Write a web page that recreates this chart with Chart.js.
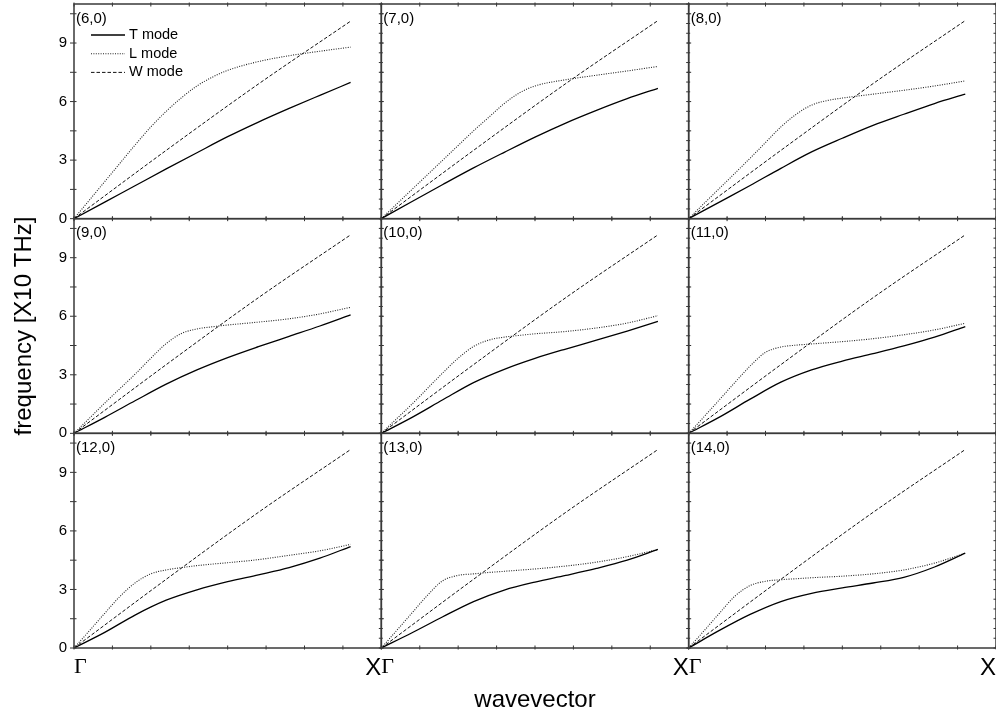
<!DOCTYPE html>
<html>
<head>
<meta charset="utf-8">
<script src="https://cdn.jsdelivr.net/npm/chart.js@4.4.1/dist/chart.umd.min.js"></script>
<style>
  html, body { margin: 0; padding: 0; background: #fff; }
  #wrap { width: 996px; height: 717px; }
</style>
</head>
<body>
<div id="wrap"><canvas id="bands" width="996" height="717"></canvas></div>
<script>
// Phonon-like dispersion of (n,0) tubes, 3x3 panels, Gamma -> X

const panelLabels = ['(6,0)', '(7,0)', '(8,0)', '(9,0)', '(10,0)', '(11,0)', '(12,0)', '(13,0)', '(14,0)'];

// wavevector samples (axis runs 0..1, curves stop at 0.9)
const kT = [0, 0.1, 0.2, 0.3, 0.4, 0.5, 0.6, 0.7, 0.8, 0.9];
const kL = [0, 0.05, 0.1, 0.15, 0.2, 0.25, 0.3, 0.35, 0.4, 0.45, 0.5, 0.6, 0.7, 0.8, 0.9];
const kW = [0, 0.3, 0.6, 0.9];

// T mode, one row per panel
const tMode = [
  [0, 0.85, 1.70, 2.55, 3.38, 4.20, 4.95, 5.65, 6.32, 6.98],
  [0, 0.88, 1.75, 2.60, 3.40, 4.18, 4.90, 5.55, 6.15, 6.68],
  [0, 0.85, 1.70, 2.58, 3.42, 4.12, 4.78, 5.35, 5.90, 6.38],
  [0, 0.82, 1.68, 2.52, 3.25, 3.88, 4.44, 4.97, 5.50, 6.07],
  [0, 0.82, 1.72, 2.60, 3.28, 3.84, 4.32, 4.77, 5.24, 5.74],
  [0, 0.83, 1.75, 2.62, 3.25, 3.70, 4.08, 4.48, 4.93, 5.47],
  [0, 0.80, 1.70, 2.45, 2.98, 3.40, 3.75, 4.12, 4.60, 5.20],
  [0, 0.78, 1.60, 2.38, 2.97, 3.38, 3.72, 4.08, 4.50, 5.05],
  [0, 0.90, 1.72, 2.38, 2.80, 3.08, 3.33, 3.62, 4.15, 4.86]
];

// L mode
const lMode = [
  [0, 0.95, 1.90, 2.85, 3.80, 4.70, 5.50, 6.20, 6.80, 7.25, 7.60, 8.05, 8.35, 8.58, 8.79],
  [0, 0.75, 1.50, 2.25, 3.00, 3.75, 4.50, 5.20, 5.90, 6.45, 6.80, 7.12, 7.35, 7.57, 7.80],
  [0, 0.78, 1.55, 2.32, 3.10, 3.90, 4.70, 5.35, 5.82, 6.05, 6.18, 6.38, 6.58, 6.80, 7.06],
  [0, 0.77, 1.55, 2.30, 3.05, 3.85, 4.60, 5.12, 5.35, 5.46, 5.55, 5.70, 5.87, 6.12, 6.46],
  [0, 0.75, 1.50, 2.30, 3.10, 3.85, 4.45, 4.78, 4.93, 5.02, 5.10, 5.22, 5.40, 5.65, 6.03],
  [0, 0.85, 1.72, 2.60, 3.45, 4.15, 4.42, 4.52, 4.58, 4.64, 4.70, 4.85, 5.05, 5.30, 5.64],
  [0, 0.88, 1.78, 2.65, 3.35, 3.80, 4.00, 4.12, 4.22, 4.30, 4.37, 4.53, 4.75, 4.98, 5.31],
  [0, 0.90, 1.80, 2.70, 3.45, 3.72, 3.80, 3.87, 3.93, 3.99, 4.05, 4.20, 4.40, 4.68, 5.05],
  [0, 0.88, 1.78, 2.65, 3.20, 3.42, 3.50, 3.55, 3.60, 3.64, 3.68, 3.80, 4.00, 4.35, 4.86]
];

// W mode
const wMode = [
  [0, 3.50, 6.90, 10.12],
  [0, 3.50, 6.92, 10.15],
  [0, 3.50, 6.92, 10.15],
  [0, 3.52, 6.95, 10.17],
  [0, 3.52, 6.95, 10.17],
  [0, 3.52, 6.95, 10.17],
  [0, 3.52, 6.95, 10.17],
  [0, 3.52, 6.95, 10.17],
  [0, 3.52, 6.95, 10.17]
];

const xTickValues = [0, 1];
const xTickLabels = ['\u0393', 'X'];
const yTickValues = [0, 3, 6, 9];

const modes = [
  { label: 'T mode', k: kT, values: tMode, color: '#000', width: 1.3, dash: [] },
  { label: 'L mode', k: kL, values: lMode, color: '#222', width: 1.1, dash: [1, 1.4] },
  { label: 'W mode', k: kW, values: wMode, color: '#111', width: 1, dash: [3.5, 2] }
];

Chart.defaults.font.family = '"Liberation Sans", Arial, sans-serif';
Chart.defaults.color = '#000';

const datasets = [];
panelLabels.forEach((name, p) => {
  modes.forEach(m => {
    datasets.push({
      label: m.label,
      data: m.k.map((k, i) => ({ x: k, y: m.values[p][i] })),
      xAxisID: 'x' + (p % 3),
      yAxisID: 'y' + Math.floor(p / 3),
      borderColor: m.color,
      borderWidth: m.width,
      borderDash: m.dash,
      pointRadius: 0,
      fill: false,
      cubicInterpolationMode: 'monotone'
    });
  });
});

// no extra edge padding from the scales, the panels fill the layout box
function noEdgePadding(s) {
  s.paddingTop = 0;
  s.paddingBottom = 0;
  s.paddingLeft = 0;
  s.paddingRight = 0;
}

const scales = {};
[0, 1, 2].forEach(c => {
  scales['x' + c] = {
    type: 'linear',
    position: 'bottom',
    stack: 'cols',
    weight: c + 1,
    min: 0,
    max: 1,
    grid: { display: false, drawTicks: false },
    border: { display: false },
    afterBuildTicks: s => { s.ticks = xTickValues.map(v => ({ value: v })); },
    afterFit: s => { s.height = 69; noEdgePadding(s); },
    ticks: {
      autoSkip: false,
      maxRotation: 0,
      align: 'inner',
      padding: 6,
      callback: v => xTickLabels[xTickValues.indexOf(v)],
      font: ctx => (ctx.tick && ctx.tick.value === 0)
        ? { family: '"Liberation Serif", "Times New Roman", serif', size: 22 }
        : { family: '"Liberation Sans", Arial, sans-serif', size: 24 }
    },
    title: {
      display: c === 1,
      text: 'wavevector',
      font: { size: 24 },
      padding: { top: 0, bottom: 2 }
    }
  };
});
[0, 1, 2].forEach(r => {
  scales['y' + r] = {
    type: 'linear',
    position: 'left',
    stack: 'rows',
    weight: 3 - r,
    min: 0,
    max: 11,
    grid: { display: false, drawTicks: false },
    border: { display: false },
    afterBuildTicks: s => { s.ticks = yTickValues.map(v => ({ value: v })); },
    afterFit: s => { s.width = 74; noEdgePadding(s); },
    ticks: { padding: 7, font: { size: 15 }, callback: v => String(v) },
    title: {
      display: r === 1,
      text: 'frequency [X10 THz]',
      font: { size: 24 },
      padding: { top: 10, bottom: 0 }
    }
  };
});

// panel frames, tick marks, panel names and the legend of the first panel
const panelFrames = {
  id: 'panelFrames',
  afterDatasetsDraw(chart) {
    const ctx = chart.ctx;
    ctx.save();
    panelLabels.forEach((name, p) => {
      const col = p % 3;
      const xs = chart.scales['x' + col];
      const ys = chart.scales['y' + Math.floor(p / 3)];
      const l = xs.left, r = xs.right, t = ys.top, b = ys.bottom;

      ctx.strokeStyle = '#333';
      ctx.lineWidth = 1;
      ctx.beginPath();
      for (let i = 0; i <= 8; i++) {
        const x = xs.getPixelForValue(i / 8);
        ctx.moveTo(x, b + 1.5); ctx.lineTo(x, b - 2.5);
        ctx.moveTo(x, t - 1.5); ctx.lineTo(x, t + 2.5);
      }
      for (let i = 0; i <= 7; i++) {
        const y = ys.getPixelForValue(i * 1.5);
        ctx.moveTo(l - (col === 0 ? 4 : 1.5), y); ctx.lineTo(l + 2.5, y);
      }
      for (let i = 0; i <= 22; i++) {
        const y = ys.getPixelForValue(i * 0.5);
        ctx.moveTo(r - 2.5, y); ctx.lineTo(r + 1.5, y);
      }
      ctx.stroke();

      ctx.strokeStyle = '#3a3a3a';
      ctx.lineWidth = 1.5;
      ctx.strokeRect(l, t, r - l, b - t);

      ctx.fillStyle = '#000';
      ctx.font = '15px "Liberation Sans", Arial, sans-serif';
      ctx.textAlign = 'left';
      ctx.textBaseline = 'middle';
      ctx.fillText(name, l + 2, t + 14.5);

      if (p === 0) {
        ctx.font = '14.5px "Liberation Sans", Arial, sans-serif';
        modes.forEach((m, i) => {
          const y = t + 31 + i * 18.7;
          ctx.strokeStyle = m.color;
          ctx.lineWidth = m.width;
          ctx.setLineDash(m.dash);
          ctx.beginPath();
          ctx.moveTo(l + 17, y); ctx.lineTo(l + 51, y);
          ctx.stroke();
          ctx.setLineDash([]);
          ctx.fillText(m.label, l + 55, y);
        });
      }
    });
    ctx.restore();
  }
};

new Chart(document.getElementById('bands'), {
  type: 'line',
  data: { datasets },
  options: {
    responsive: false,
    animation: false,
    devicePixelRatio: 1,
    events: [],
    layout: { padding: { top: 4, right: -1, bottom: 0, left: 0 } },
    scales,
    plugins: { legend: { display: false }, tooltip: { enabled: false } }
  },
  plugins: [panelFrames]
});
</script>
</body>
</html>
